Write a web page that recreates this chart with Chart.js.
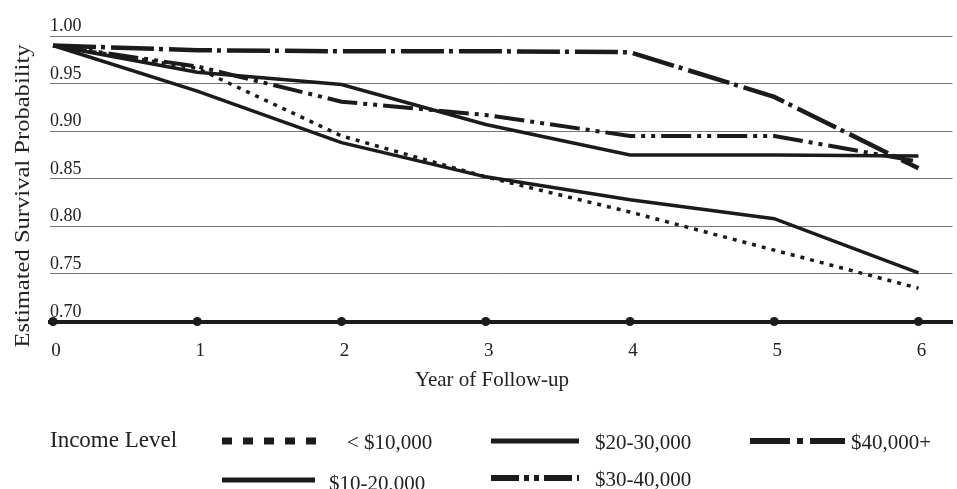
<!DOCTYPE html>
<html>
<head>
<meta charset="utf-8">
<script src="https://cdn.jsdelivr.net/npm/chart.js@4.4.1/dist/chart.umd.min.js"></script>
<style>
  html, body { margin: 0; padding: 0; background: #fff; }
  canvas { display: block; }
</style>
</head>
<body>
<canvas id="survival" width="957" height="489" style="width:957px;height:489px"></canvas>
<script>
// values
const years = [0, 1, 2, 3, 4, 5, 6];
const incomeLevels = ['< $10,000', '$10-20,000', '$20-30,000', '$30-40,000', '$40,000+'];
const under10k = [0.990, 0.966, 0.895, 0.852, 0.815, 0.775, 0.735];
const inc10to20k = [0.990, 0.942, 0.888, 0.852, 0.828, 0.808, 0.751];
const inc20to30k = [0.990, 0.962, 0.949, 0.907, 0.875, 0.875, 0.874];
const inc30to40k = [0.990, 0.968, 0.931, 0.917, 0.895, 0.895, 0.868];
const over40k = [0.990, 0.985, 0.984, 0.984, 0.983, 0.936, 0.861];
const axisMarks = [0.70, 0.70, 0.70, 0.70, 0.70, 0.70, 0.70];
const yTickLabels = ['1.00', '0.95', '0.90', '0.85', '0.80', '0.75', '0.70'];
const xTickLabels = ['0', '1', '2', '3', '4', '5', '6'];

const ink = '#1b1b1b';
const serif = "'Liberation Serif', 'DejaVu Serif', serif";

// line styles: plot dash and legend dash
const lineStyles = [
  { width: 3.5, dash: [4, 6], legendWidth: 7, legendDash: [10, 11] },
  { width: 3.5, dash: [], legendWidth: 5, legendDash: [] },
  { width: 3.5, dash: [], legendWidth: 5, legendDash: [] },
  { width: 4, dash: [30, 6, 4, 6, 4, 6], legendWidth: 6, legendDash: [28, 5, 5, 5, 5, 5] },
  { width: 4.5, dash: [43, 5, 4, 6], legendWidth: 6, legendDash: [40, 7, 6, 7] }
];

const seriesValues = [under10k, inc10to20k, inc20to30k, inc30to40k, over40k];

const toPoints = vals => vals.map((v, i) => ({ x: years[i], y: v }));

const datasets = seriesValues.map((vals, i) => ({
  label: incomeLevels[i],
  data: toPoints(vals),
  borderColor: ink,
  borderWidth: lineStyles[i].width,
  borderDash: lineStyles[i].dash,
  borderCapStyle: 'butt',
  pointRadius: 0,
  tension: 0,
  fill: false
}));

datasets.push({
  label: 'axis',
  data: toPoints(axisMarks),
  showLine: false,
  pointRadius: 4.5,
  pointBackgroundColor: ink,
  pointBorderWidth: 0,
  clip: false
});

// where each legend entry sits (row 1 / row 2 of the key)
const legendSlots = [
  { x0: 222, x1: 317, tx: 347, y: 441 },
  { x0: 222, x1: 315, tx: 329, y: 480 },
  { x0: 491, x1: 579, tx: 595, y: 441 },
  { x0: 491, x1: 579, tx: 595, y: 478 },
  { x0: 750, x1: 845, tx: 851, y: 441 }
];

const textPlugin = {
  id: 'scanText',
  afterDraw(chart) {
    const ctx = chart.ctx;
    const xs = chart.scales.x;
    const ys = chart.scales.y;
    ctx.save();
    ctx.fillStyle = '#222';

    // y tick labels sit just above their grid line
    ctx.font = '18px ' + serif;
    ctx.textAlign = 'left';
    ctx.textBaseline = 'alphabetic';
    yTickLabels.forEach(t => {
      ctx.fillText(t, 50, ys.getPixelForValue(parseFloat(t)) - 5);
    });

    // x tick labels
    ctx.font = '19px ' + serif;
    ctx.textAlign = 'center';
    xTickLabels.forEach(t => {
      ctx.fillText(t, xs.getPixelForValue(+t) + 3, 356);
    });

    ctx.font = '21px ' + serif;
    ctx.fillText('Year of Follow-up', 492, 386);

    ctx.save();
    ctx.translate(29, 196);
    ctx.rotate(-Math.PI / 2);
    ctx.scale(1.17, 1);
    ctx.fillText('Estimated Survival Probability', 0, 0);
    ctx.restore();

    // key
    ctx.textAlign = 'left';
    ctx.textBaseline = 'middle';
    ctx.font = '23px ' + serif;
    ctx.fillText('Income Level', 50, 441);
    ctx.font = '21px ' + serif;
    legendSlots.forEach((s, i) => {
      ctx.strokeStyle = ink;
      ctx.lineWidth = lineStyles[i].legendWidth;
      ctx.setLineDash(lineStyles[i].legendDash);
      ctx.lineCap = 'butt';
      ctx.beginPath();
      ctx.moveTo(s.x0, s.y);
      ctx.lineTo(s.x1, s.y);
      ctx.stroke();
      ctx.fillText(incomeLevels[i], s.tx, s.y + (i === 1 ? 4 : 2));
    });
    ctx.restore();
  }
};

new Chart(document.getElementById('survival'), {
  type: 'line',
  data: { datasets },
  options: {
    responsive: false,
    animation: false,
    devicePixelRatio: 1,
    layout: { padding: { top: 36, left: 50, right: 0, bottom: 159.5 } },
    plugins: { legend: { display: false }, tooltip: { enabled: false } },
    scales: {
      x: {
        type: 'linear',
        min: -0.021,
        max: 6.236,
        ticks: { display: false },
        grid: { display: false },
        border: { display: true, color: ink, width: 4 }
      },
      y: {
        min: 0.70,
        max: 1.00,
        ticks: { display: false, stepSize: 0.05 },
        grid: { drawTicks: false, color: '#777', lineWidth: 1 },
        border: { display: false }
      }
    }
  },
  plugins: [textPlugin]
});
</script>
</body>
</html>
